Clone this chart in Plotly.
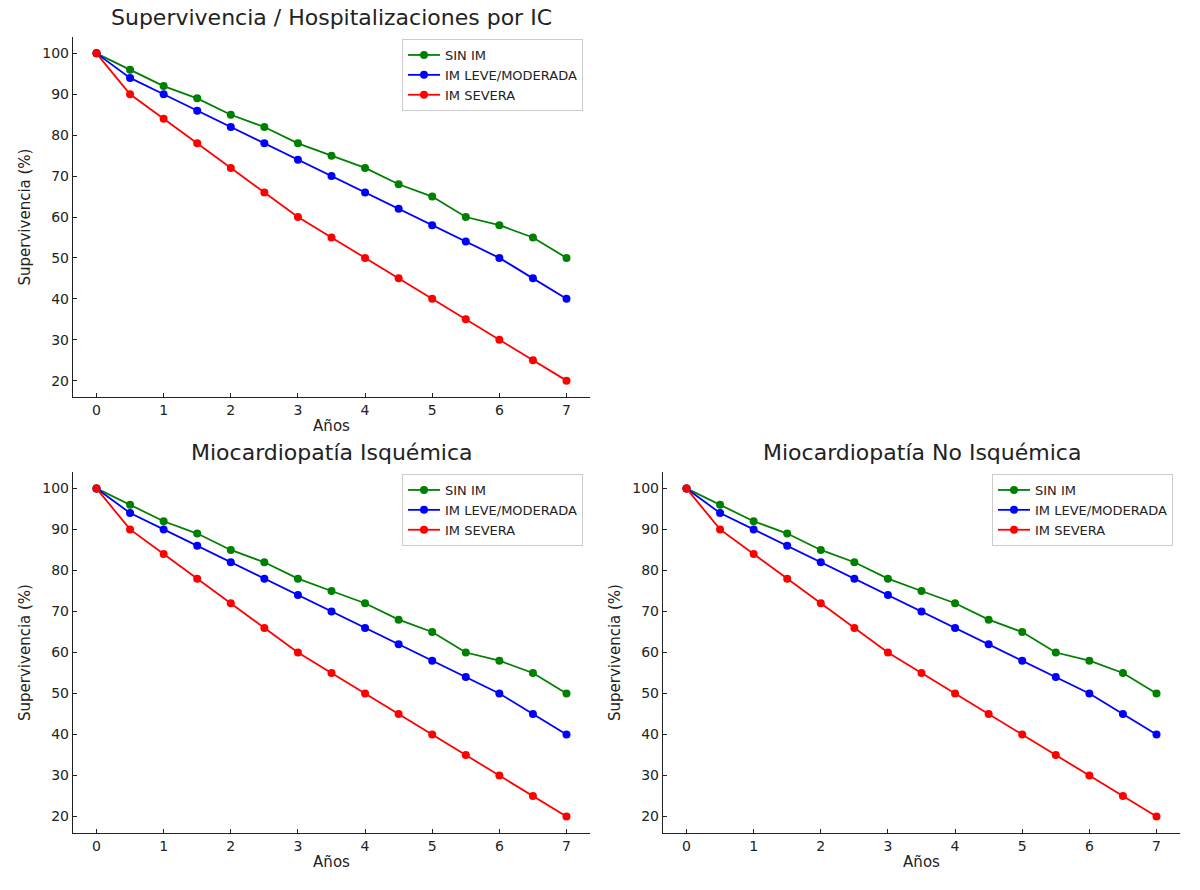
import plotly.graph_objects as go

years = [0, 0.5, 1, 1.5, 2, 2.5, 3, 3.5, 4, 4.5, 5, 5.5, 6, 6.5, 7]
sin_im = [100, 96, 92, 89, 85, 82, 78, 75, 72, 68, 65, 60, 58, 55, 50]
im_leve = [100, 94, 90, 86, 82, 78, 74, 70, 66, 62, 58, 54, 50, 45, 40]
im_severa = [100, 90, 84, 78, 72, 66, 60, 55, 50, 45, 40, 35, 30, 25, 20]

series_names = ["SIN IM", "IM LEVE/MODERADA", "IM SEVERA"]
series_vals = [sin_im, im_leve, im_severa]
colors = ["#008000", "#0000ff", "#ff0000"]

titles = ["Supervivencia / Hospitalizaciones por IC",
          "Miocardiopatía Isquémica",
          "Miocardiopatía No Isquémica"]

W, H = 1200, 890
FONT = "DejaVu Sans"

# panel boxes in pixels: (left, right, top, bottom)
panels = [(73, 590, 37, 397), (73, 590, 472, 833), (663, 1180, 472, 833)]

fig = go.Figure()

for p, (l, r, t, b) in enumerate(panels):
    sfx = "" if p == 0 else str(p + 1)
    lg = "legend" if p == 0 else "legend" + str(p + 1)
    for name, vals, c in zip(series_names, series_vals, colors):
        fig.add_trace(go.Scatter(
            x=years, y=vals, mode="lines+markers", name=name,
            line=dict(color=c, width=1.8),
            marker=dict(color=c, size=8),
            xaxis="x" + sfx, yaxis="y" + sfx, legend=lg,
        ))
    dom_x = [l / W, r / W]
    dom_y = [1 - b / H, 1 - t / H]
    axcommon = dict(showline=True, linecolor="#222222", linewidth=1.4, mirror=False,
                    showgrid=False, zeroline=False, ticks="inside", ticklen=4,
                    tickcolor="#222222", tickfont=dict(family=FONT, size=14, color="#222222"))
    fig.update_layout(**{
        "xaxis" + sfx: dict(domain=dom_x, range=[-0.35, 7.35], tickmode="array",
                             tickvals=list(range(0, 8)), anchor="y" + sfx,
                             title=dict(text="Años", font=dict(family=FONT, size=15, color="#222222"), standoff=3),
                             **axcommon),
        "yaxis" + sfx: dict(domain=dom_y, range=[16, 104], tickmode="array",
                             tickvals=list(range(20, 101, 10)), anchor="x" + sfx,
                             title=dict(text="Supervivencia (%)", font=dict(family=FONT, size=15, color="#222222"), standoff=8),
                             **axcommon),
        lg: dict(x=(r - 7) / W, y=1 - (t + 2) / H, xanchor="right", yanchor="top",
                 bgcolor="rgba(255,255,255,0.9)", bordercolor="#cccccc", borderwidth=1,
                 font=dict(family=FONT, size=13, color="#222222"), itemwidth=32,
                 tracegroupgap=0),
    })
    fig.add_annotation(text=titles[p], xref="paper", yref="paper",
                       x=(l + r) / 2 / W, y=1 - (t - 5) / H, xanchor="center", yanchor="bottom",
                       showarrow=False, font=dict(family=FONT, size=22, color="#222222"))

fig.update_layout(width=W, height=H, margin=dict(l=0, r=0, t=0, b=0),
                  paper_bgcolor="white", plot_bgcolor="white",
                  font=dict(family=FONT))

fig.write_html("out.html")
